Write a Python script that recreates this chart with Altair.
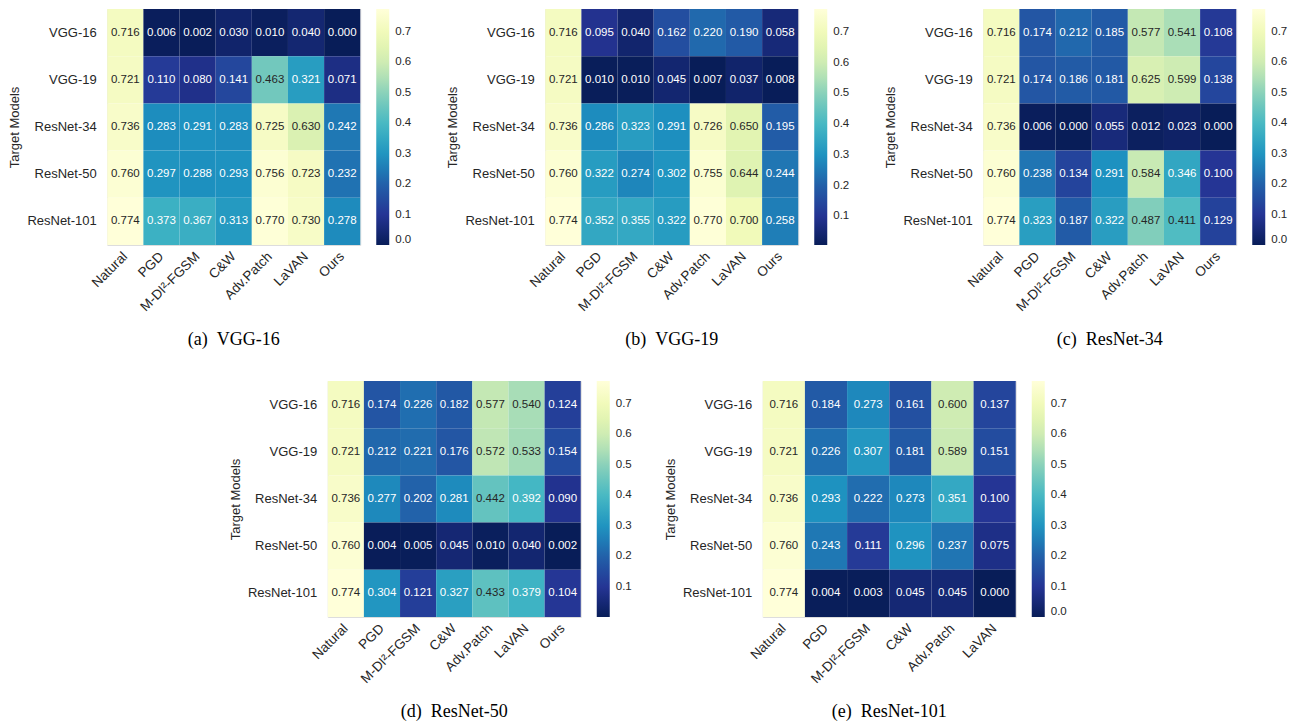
import altair as alt
import pandas as pd

rows = ["VGG-16", "VGG-19", "ResNet-34", "ResNet-50", "ResNet-101"]
cols7 = ["Natural", "PGD", "M-DI²-FGSM", "C&W", "Adv.Patch", "LaVAN", "Ours"]
cols6 = ["Natural", "PGD", "M-DI²-FGSM", "C&W", "Adv.Patch", "LaVAN"]

vals_a = [
    [0.716, 0.006, 0.002, 0.030, 0.010, 0.040, 0.000],
    [0.721, 0.110, 0.080, 0.141, 0.463, 0.321, 0.071],
    [0.736, 0.283, 0.291, 0.283, 0.725, 0.630, 0.242],
    [0.760, 0.297, 0.288, 0.293, 0.756, 0.723, 0.232],
    [0.774, 0.373, 0.367, 0.313, 0.770, 0.730, 0.278],
]
vals_b = [
    [0.716, 0.095, 0.040, 0.162, 0.220, 0.190, 0.058],
    [0.721, 0.010, 0.010, 0.045, 0.007, 0.037, 0.008],
    [0.736, 0.286, 0.323, 0.291, 0.726, 0.650, 0.195],
    [0.760, 0.322, 0.274, 0.302, 0.755, 0.644, 0.244],
    [0.774, 0.352, 0.355, 0.322, 0.770, 0.700, 0.258],
]
vals_c = [
    [0.716, 0.174, 0.212, 0.185, 0.577, 0.541, 0.108],
    [0.721, 0.174, 0.186, 0.181, 0.625, 0.599, 0.138],
    [0.736, 0.006, 0.000, 0.055, 0.012, 0.023, 0.000],
    [0.760, 0.238, 0.134, 0.291, 0.584, 0.346, 0.100],
    [0.774, 0.323, 0.187, 0.322, 0.487, 0.411, 0.129],
]
vals_d = [
    [0.716, 0.174, 0.226, 0.182, 0.577, 0.540, 0.124],
    [0.721, 0.212, 0.221, 0.176, 0.572, 0.533, 0.154],
    [0.736, 0.277, 0.202, 0.281, 0.442, 0.392, 0.090],
    [0.760, 0.004, 0.005, 0.045, 0.010, 0.040, 0.002],
    [0.774, 0.304, 0.121, 0.327, 0.433, 0.379, 0.104],
]
vals_e = [
    [0.716, 0.184, 0.273, 0.161, 0.600, 0.137],
    [0.721, 0.226, 0.307, 0.181, 0.589, 0.151],
    [0.736, 0.293, 0.222, 0.273, 0.351, 0.100],
    [0.760, 0.243, 0.111, 0.296, 0.237, 0.075],
    [0.774, 0.004, 0.003, 0.045, 0.045, 0.000],
]
cbar_ticks = [0.0, 0.1, 0.2, 0.3, 0.4, 0.5, 0.6, 0.7]
subtitles = ["(a)\u00a0\u00a0VGG-16", "(b)\u00a0\u00a0VGG-19", "(c)\u00a0\u00a0ResNet-34",
             "(d)\u00a0\u00a0ResNet-50", "(e)\u00a0\u00a0ResNet-101"]

# YlGnBu (ColorBrewer 9-class), reversed so low values are dark
ylgnbu_r = ["#081d58", "#253494", "#225ea8", "#1d91c0", "#41b6c4",
            "#7fcdbb", "#c7e9b4", "#edf8b1", "#ffffd9"]

SANS = "Liberation Sans"
TXT = "#262626"


def panel(vals, cols, subtitle):
    recs = []
    flat = [v for r in vals for v in r]
    lo, hi = min(flat), max(flat)
    n = len(ylgnbu_r)
    stops = [lo + (hi - lo) * k / (n - 1) for k in range(n)]
    for i, r in enumerate(rows):
        for j, c in enumerate(cols):
            v = vals[i][j]
            recs.append({"target": r, "attack": c, "v": v,
                         "light": (v - lo) / (hi - lo) > 0.52})
    df = pd.DataFrame(recs)
    base = alt.Chart(df).encode(
        x=alt.X("attack:N", sort=cols, title=None,
                axis=alt.Axis(labelAngle=-45, labelAlign="right", labelBaseline="middle",
                              labelPadding=9, labelFontSize=13.5, labelFont=SANS,
                              labelColor=TXT, domain=False, ticks=False)),
        y=alt.Y("target:N", sort=rows, title="Target Models",
                axis=alt.Axis(labelFontSize=13, labelFont=SANS, labelColor=TXT,
                              labelPadding=11, domain=False, ticks=False,
                              titleFont=SANS, titleFontSize=13, titleFontWeight="normal",
                              titleColor=TXT, titlePadding=5)),
    )
    cscale = alt.Scale(domain=stops, range=ylgnbu_r, interpolate="rgb")
    rect = base.mark_rect().encode(
        color=alt.Color("v:Q", scale=cscale,
                        legend=alt.Legend(title=None, orient="right", offset=16,
                                          gradientLength=236, gradientThickness=13,
                                          gradientStrokeWidth=0,
                                          values=[t for t in cbar_ticks if t >= lo],
                                          format=".1f", labelFontSize=11.5, labelFont=SANS,
                                          labelColor=TXT, labelOffset=6,
                                          labelBaseline="middle", labelOverlap=False)),
    )
    text = base.mark_text(fontSize=11.5, font=SANS).encode(
        text=alt.Text("v:Q", format=".3f"),
        color=alt.condition("datum.light", alt.value(TXT), alt.value("#ffffff")),
    )
    return alt.layer(rect, text).properties(
        width=253, height=236,
        title=alt.TitleParams(subtitle, orient="bottom", anchor="middle", font="Liberation Serif",
                              fontSize=18, fontWeight="normal", color="#000000", offset=18),
    )


pa = panel(vals_a, cols7, subtitles[0])
pb = panel(vals_b, cols7, subtitles[1])
pc = panel(vals_c, cols7, subtitles[2])
pd_ = panel(vals_d, cols7, subtitles[3])
pe = panel(vals_e, cols6, subtitles[4])

top = alt.hconcat(pa, pb, pc, spacing=34).resolve_scale(color="independent")
bottom = alt.hconcat(pd_, pe, spacing=31).resolve_scale(color="independent")
chart = alt.vconcat(top, bottom, spacing=30, center=True).resolve_scale(
    color="independent"
).properties(padding=0).configure_view(stroke=None, strokeWidth=0, strokeOpacity=0).configure(
    background="white"
)

chart.save("out.html", embed_options={"renderer": "svg", "actions": False})
